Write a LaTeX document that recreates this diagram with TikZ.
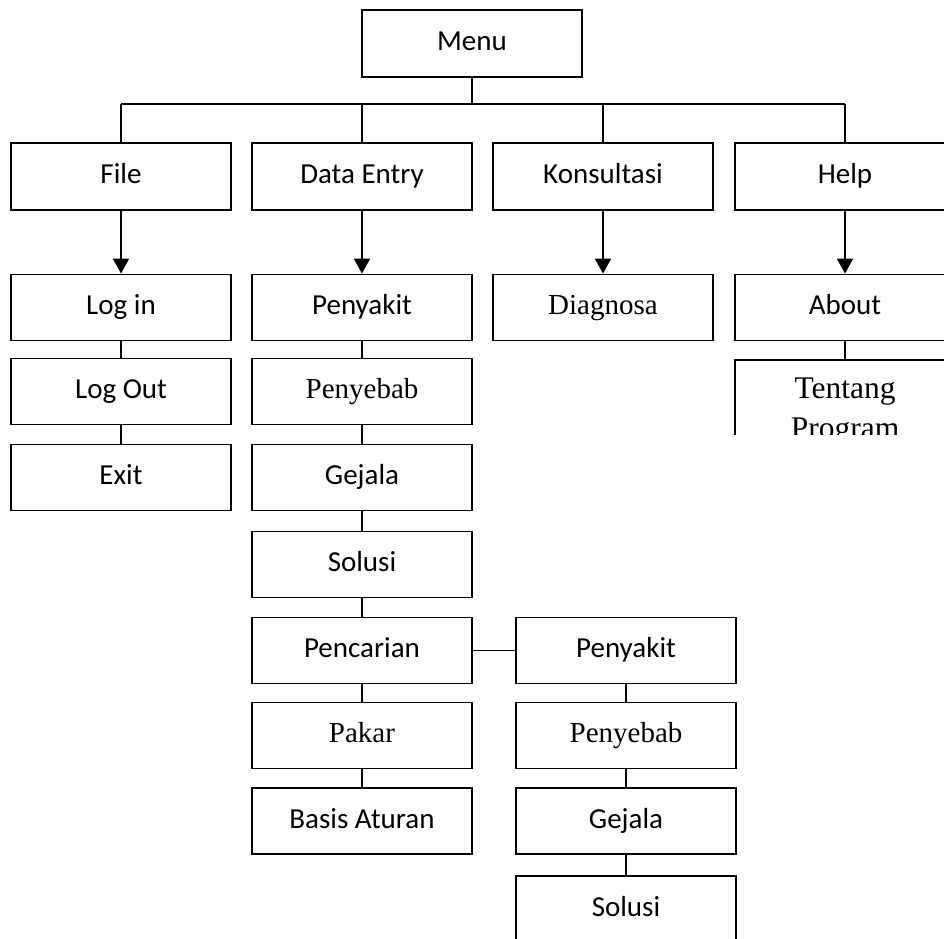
\documentclass[tikz,border=0pt]{standalone}
\usepackage{fontspec}
\setmainfont{Carlito}
\newfontfamily\seriffont{Liberation Serif}
\usetikzlibrary{arrows.meta}
\begin{document}
\begin{tikzpicture}[x=1pt,y=-1pt,
  box/.style={draw,line width=1.8pt,minimum width=220pt,minimum height=66pt,inner sep=0pt,text height=20pt,text depth=6pt,font=\fontsize{29}{35}\selectfont},
  sbox/.style={box,font=\seriffont\fontsize{29}{35}\selectfont},
  link/.style={line width=1.8pt},
  arr/.style={line width=1.8pt,-{Triangle[length=15pt,width=16pt]}}]
\useasboundingbox (0,0) rectangle (944,938);
\clip (0,0) rectangle (944,938);
% top
\node[box,minimum height=67pt] (menu) at (472,43.5) {Menu};
\node[box,minimum height=67pt] (file) at (121,176.5) {File};
\node[box,minimum height=67pt] (data) at (362,176.5) {Data Entry};
\node[box,minimum height=67pt] (kons) at (603,176.5) {Konsultasi};
\node[box,minimum height=67pt] (help) at (845,176.5) {Help};
\coordinate (hl) at (121,104);
\coordinate (hr) at (845,104);
\coordinate (hm) at (472,104);
\draw[link] (menu.south) -- (hm);
\draw[link] (hl) -- (hr);
\draw[link] (hl) -- (file.north);
\draw[link] (data.north |- hl) -- (data.north);
\draw[link] (kons.north |- hl) -- (kons.north);
\draw[link] (hr) -- (help.north);
% row 2
\node[box] (login) at (121,307.5) {Log in};
\node[box] (peny) at (362,307.5) {Penyakit};
\node[sbox] (diag) at (603,307.5) {Diagnosa};
\node[box] (about) at (845,307.5) {About};
\draw[arr] (file) -- (login);
\draw[arr] (data) -- (peny);
\draw[arr] (kons) -- (diag);
\draw[arr] (help) -- (about);
% File column
\node[box] (logout) at (121,391.5) {Log Out};
\node[box] (exit) at (121,477.5) {Exit};
\draw[link] (login) -- (logout);
\draw[link] (logout) -- (exit);
% Data Entry column
\node[sbox] (penyeb) at (362,391.5) {Penyebab};
\node[box] (gejala) at (362,477.5) {Gejala};
\node[box] (solusi) at (362,564.5) {Solusi};
\node[box] (pencarian) at (362,650.5) {Pencarian};
\node[sbox] (pakar) at (362,735.5) {Pakar};
\node[box] (basis) at (362,821) {Basis Aturan};
\draw[link] (peny) -- (penyeb);
\draw[link] (penyeb) -- (gejala);
\draw[link] (gejala) -- (solusi);
\draw[link] (solusi) -- (pencarian);
\draw[link] (pencarian) -- (pakar);
\draw[link] (pakar) -- (basis);
% Pencarian column
\node[box] (penyB) at (626,650.5) {Penyakit};
\node[sbox] (penyebB) at (626,735.5) {Penyebab};
\node[box] (gejalaB) at (626,821) {Gejala};
\node[box,minimum height=67pt] (solusiB) at (626,909.5) {Solusi};
\draw[link] (pencarian) -- (penyB);
\draw[link] (penyB) -- (penyebB);
\draw[link] (penyebB) -- (gejalaB);
\draw[link] (gejalaB) -- (solusiB);
% Help column
\begin{scope}
\clip (700,350) rectangle (944,434);
\node[box,minimum height=100pt] (tp) at (845,410) {};
\node[font=\seriffont\fontsize{31.5}{38}\selectfont,anchor=base,inner sep=0pt] (tpa) at (845,398) {Tentang};
\node[font=\seriffont\fontsize{31.5}{38}\selectfont,anchor=base,inner sep=0pt] (tpb) at (845,438) {Program};
\end{scope}
\draw[link] (about) -- (tp);
\end{tikzpicture}
\end{document}
